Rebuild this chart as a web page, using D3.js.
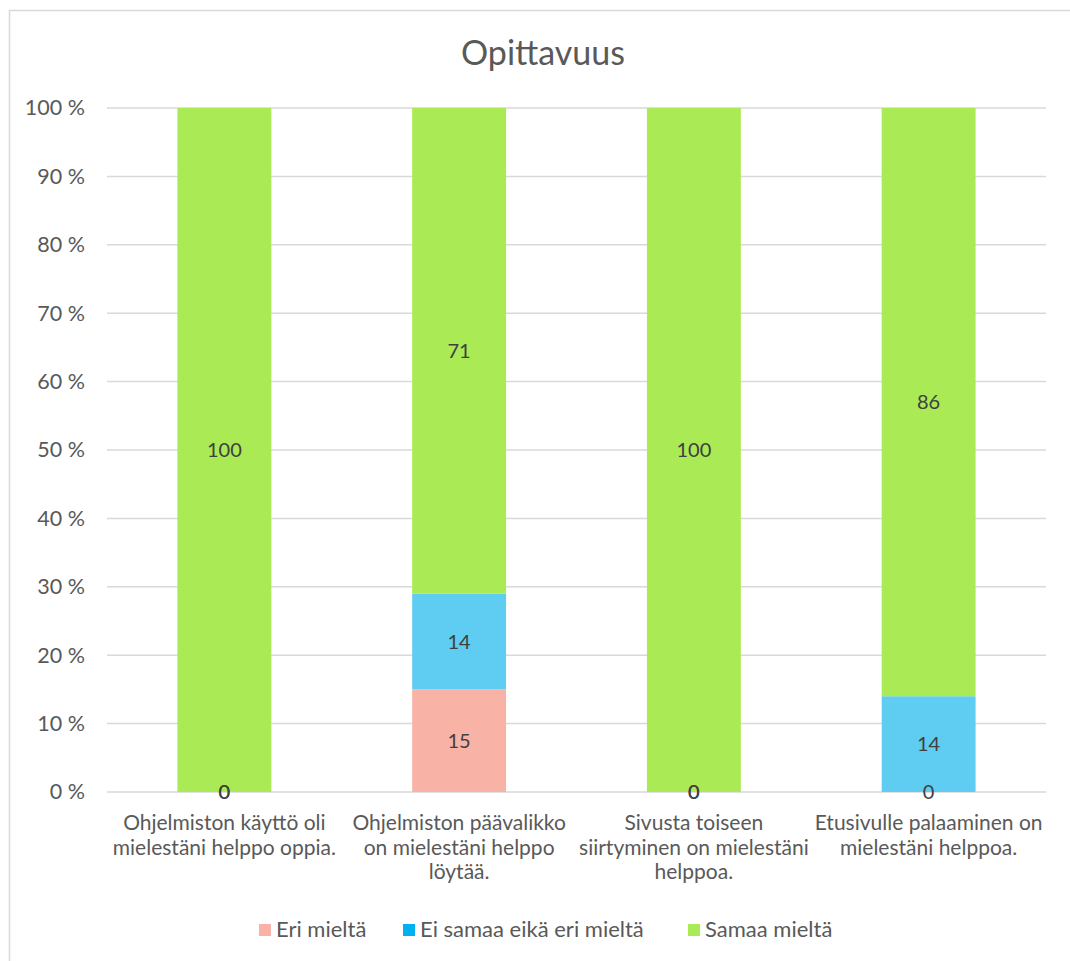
<!DOCTYPE html>
<html><head><meta charset="utf-8">
<script src="https://cdn.jsdelivr.net/npm/d3@7"></script>
<style>body{margin:0;background:#fff}svg{display:block}</style>
</head><body>
<script>
const categories = [
  ["Ohjelmiston käyttö oli", "mielestäni helppo oppia."],
  ["Ohjelmiston päävalikko", "on mielestäni helppo", "löytää."],
  ["Sivusta toiseen", "siirtyminen on mielestäni", "helppoa."],
  ["Etusivulle palaaminen on", "mielestäni helppoa."]
];
const seriesNames = ["Eri mieltä", "Ei samaa eikä eri mieltä", "Samaa mieltä"];
const eriMielta = [0, 15, 0, 0];
const eiSamaaEikaEri = [0, 14, 0, 14];
const samaaMielta = [100, 71, 100, 86];
const barColors = ["#F8B2A6", "#5FCDF2", "#AAEA54"];
const legendColors = ["#F8B2A6", "#00B0F0", "#AAEA54"];
const yTicks = [0, 10, 20, 30, 40, 50, 60, 70, 80, 90, 100];

const W = 1070, H = 961;
const font = "Lato, 'Open Sans', sans-serif";
const svg = d3.select("body").append("svg").attr("width", W).attr("height", H);
svg.append("rect").attr("x", 9.5).attr("y", 10.5).attr("width", 1100).attr("height", 1000)
  .attr("fill", "#fff").attr("stroke", "#d9d9d9").attr("stroke-width", 1.5);

const x = d3.scaleBand().domain(d3.range(categories.length)).range([107, 1046]).paddingInner(0.6).paddingOuter(0.3);
const y = d3.scaleLinear().domain([0, 100]).range([792, 108]);

svg.append("text").attr("x", 543).attr("y", 65).attr("text-anchor", "middle")
  .attr("font-family", font).attr("font-size", 34).attr("fill", "#595959").text("Opittavuus");

// gridlines
svg.append("g").selectAll("line").data(yTicks).join("line")
  .attr("x1", 107).attr("x2", 1046).attr("y1", d => y(d)).attr("y2", d => y(d))
  .attr("stroke", "#d9d9d9").attr("stroke-width", 1.5);

// y axis labels
const yAxis = d3.axisLeft(y).tickValues(yTicks).tickFormat(d => d + " %").tickSize(0).tickPadding(0);
const ya = svg.append("g").attr("transform", "translate(85,0)").call(yAxis);
ya.select(".domain").remove();
ya.selectAll("text").attr("font-family", font).attr("font-size", 21.5).attr("fill", "#595959");

const data = categories.map((c, i) => ({i, s0: eriMielta[i], s1: eiSamaaEikaEri[i], s2: samaaMielta[i]}));
const stack = d3.stack().keys(["s0", "s1", "s2"])(data);

const g = svg.append("g");
stack.forEach((layer, k) => {
  g.selectAll(null).data(layer).join("rect")
    .attr("x", d => x(d.data.i)).attr("width", x.bandwidth())
    .attr("y", d => y(d[1])).attr("height", d => y(d[0]) - y(d[1]))
    .attr("fill", barColors[k]);
});
stack.forEach((layer, k) => {
  g.selectAll(null).data(layer).join("text")
    .attr("x", d => x(d.data.i) + x.bandwidth() / 2)
    .attr("y", d => y((d[0] + d[1]) / 2))
    .attr("dy", "0.35em").attr("text-anchor", "middle")
    .attr("font-family", font).attr("font-size", 20).attr("fill", "#404040")
    .text(d => d[1] - d[0]);
});

// category labels
const cl = svg.append("g");
categories.forEach((lines, i) => {
  const t = cl.append("text").attr("text-anchor", "middle")
    .attr("font-family", font).attr("font-size", 21).attr("fill", "#595959");
  lines.forEach((ln, j) => {
    t.append("tspan").attr("x", x(i) + x.bandwidth() / 2).attr("y", 830 + j * 24.5).text(ln);
  });
});

// legend
const legendX = [259, 403, 688];
const lg = svg.append("g");
seriesNames.forEach((n, k) => {
  lg.append("rect").attr("x", legendX[k]).attr("y", 924).attr("width", 12).attr("height", 12).attr("fill", legendColors[k]);
  lg.append("text").attr("x", legendX[k] + 17).attr("y", 937)
    .attr("font-family", font).attr("font-size", 22).attr("fill", "#595959").text(n);
});
</script>
</body></html>
